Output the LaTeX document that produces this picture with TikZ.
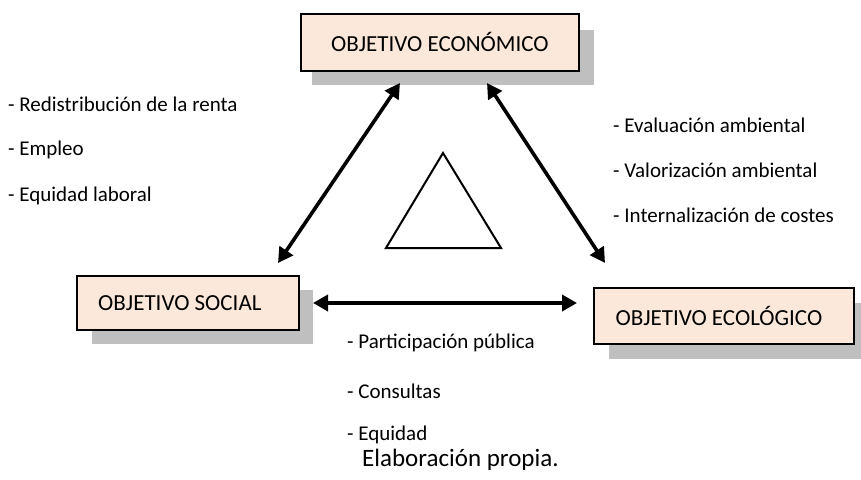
\documentclass[tikz,border=0pt]{standalone}
\usepackage{fontspec}
\setmainfont{Carlito}
\usetikzlibrary{arrows.meta}
\definecolor{boxfill}{HTML}{FCE8DA}
\definecolor{shadowgray}{HTML}{BFBFBF}
\begin{document}
\begin{tikzpicture}[x=1pt,y=-1pt,
  objbox/.style={draw=black, line width=1.8pt, fill=boxfill, inner sep=0pt, anchor=north west, font=\fontsize{23}{25}\selectfont},
  biarrow/.style={line width=3.6pt, {Triangle[length=15pt,width=16pt]}-{Triangle[length=15pt,width=16pt]}},
  listtxt/.style={anchor=west, inner sep=0pt, font=\fontsize{21}{23}\selectfont},
  srctxt/.style={anchor=west, inner sep=0pt, font=\fontsize{25}{27}\selectfont}
]
\useasboundingbox (0,0) rectangle (861,479);
% shadows
\fill[shadowgray] (312,30) rectangle (594,85);
\fill[shadowgray] (92,290) rectangle (313,344);
\fill[shadowgray] (609,303) rectangle (861,359);
% boxes
\node[objbox, minimum width=278pt, minimum height=57pt] (econ) at (300,13) {OBJETIVO ECONÓMICO};
\node[objbox, minimum width=222pt, minimum height=54pt] (social) at (76,275) {\hspace*{-16pt}OBJETIVO SOCIAL};
\node[objbox, minimum width=260pt, minimum height=56pt] (eco) at (593,287) {\hspace*{-10pt}OBJETIVO ECOLÓGICO};
% arrow end points
\coordinate (a1) at (278,263);
\coordinate (a2) at (400,83);
\coordinate (b1) at (487,83);
\coordinate (b2) at (605,263);
\coordinate (c1) at (313,303);
\coordinate (c2) at (577,303);
\draw[biarrow] (a1) -- (a2);
\draw[biarrow] (b1) -- (b2);
\draw[biarrow] (c1) -- (c2);
% central triangle
\coordinate (t1) at (386,248);
\coordinate (t2) at (501,248);
\coordinate (t3) at (443,153);
\draw[line width=2pt, line join=miter] (t1) -- (t2) -- (t3) -- cycle;
% lists
\node[listtxt] (l1) at (8,104) {- Redistribución de la renta};
\node[listtxt] (l2) at (8,150) {- Empleo};
\node[listtxt] (l3) at (8,196) {- Equidad laboral};
\node[listtxt] (r1) at (613,125) {- Evaluación ambiental};
\node[listtxt] (r2) at (613,170) {- Valorización ambiental};
\node[listtxt] (r3) at (613,215) {- Internalización de costes};
\node[listtxt] (b1t) at (347,343) {- Participación pública};
\node[listtxt] (b2t) at (347,391) {- Consultas};
\node[listtxt] (b3t) at (347,435) {- Equidad};
\node[srctxt] (src) at (362,460) {Elaboración propia.};
\end{tikzpicture}
\end{document}
